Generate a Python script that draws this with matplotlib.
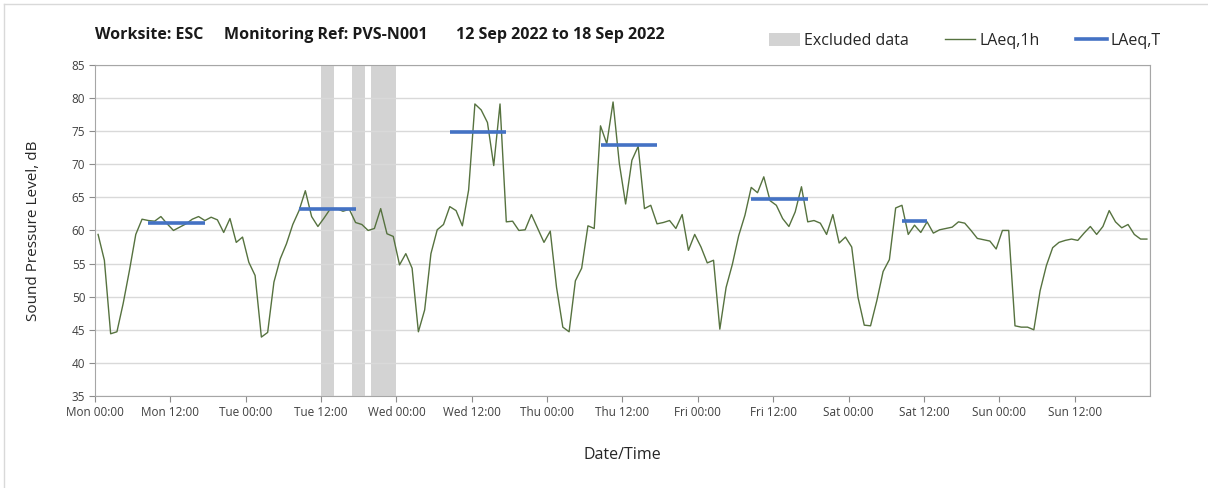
import numpy as np
import matplotlib
matplotlib.use('Agg')
import matplotlib.pyplot as plt
from matplotlib.patches import Patch
from matplotlib.lines import Line2D

plt.rcParams['font.family'] = ['Open Sans', 'DejaVu Sans']

# hourly LAeq,1h values (dB), one list per day, plotted at the middle of each hour
mon = [59.4, 55.5, 44.4, 44.7, 49.0, 54.0, 59.4, 61.7, 61.5, 61.4, 62.1, 61.0,
       60.0, 60.5, 61.0, 61.7, 62.1, 61.5, 62.0, 61.6, 59.7, 61.8, 58.2, 59.0]
tue = [55.2, 53.2, 43.9, 44.6, 52.2, 55.7, 58.0, 60.9, 63.0, 66.0, 62.1, 60.6,
       61.9, 63.3, 63.3, 62.9, 63.2, 61.2, 60.9, 60.0, 60.3, 63.3, 59.5, 59.1]
wed = [54.8, 56.5, 54.3, 44.7, 48.0, 56.5, 60.1, 60.9, 63.6, 63.0, 60.7, 66.1,
       79.1, 78.2, 76.3, 69.8, 79.1, 61.3, 61.4, 60.0, 60.1, 62.4, 60.3, 58.2]
thu = [59.9, 51.4, 45.4, 44.7, 52.4, 54.3, 60.7, 60.3, 75.8, 73.1, 79.4, 70.1,
       64.0, 70.6, 72.7, 63.3, 63.8, 61.0, 61.2, 61.5, 60.3, 62.4, 57.0, 59.4]
fri = [57.5, 55.1, 55.5, 45.1, 51.4, 54.9, 59.2, 62.3, 66.5, 65.7, 68.1, 64.5,
       63.8, 61.8, 60.6, 62.8, 66.6, 61.3, 61.5, 61.1, 59.4, 62.4, 58.1, 59.0]
sat = [57.5, 49.9, 45.7, 45.6, 49.4, 53.8, 55.6, 63.4, 63.8, 59.4, 60.8, 59.7,
       61.3, 59.6, 60.1, 60.3, 60.5, 61.3, 61.1, 60.0, 58.8, 58.6, 58.4, 57.2]
sun = [60.0, 60.0, 45.6, 45.4, 45.4, 45.0, 50.9, 54.7, 57.4, 58.2, 58.5, 58.7,
       58.5, 59.6, 60.6, 59.4, 60.6, 63.0, 61.3, 60.4, 60.9, 59.4, 58.7, 58.7]

laeq_1h = mon + tue + wed + thu + fri + sat + sun
hours = np.arange(len(laeq_1h)) + 0.5

# LAeq,T over each daytime period: start hour, end hour, level
laeq_t_start = [8.5, 32.5, 56.5, 80.5, 104.5, 128.5]
laeq_t_end = [17.5, 41.5, 65.5, 89.5, 113.5, 132.5]
laeq_t = [61.2, 63.3, 74.8, 72.9, 64.8, 61.5]

# excluded periods (hours from Mon 00:00)
excl_start = [36, 41, 44]
excl_end = [38, 43, 48]

days = ['Mon', 'Tue', 'Wed', 'Thu', 'Fri', 'Sat', 'Sun']
tick_labels = [d + ' ' + t for d in days for t in ['00:00', '12:00']]

green = '#56723f'
blue = '#4472c4'
grey = '#d3d3d3'

fig, ax = plt.subplots(figsize=(12.08, 4.88), dpi=100)
fig.subplots_adjust(left=0.0786, right=0.952, top=0.867, bottom=0.1885)

for s, e in zip(excl_start, excl_end):
    ax.axvspan(s, e, color=grey, lw=0, zorder=1)

ax.plot(hours, laeq_1h, color=green, lw=1.0, zorder=3)
ax.hlines(laeq_t, laeq_t_start, laeq_t_end, color=blue, lw=2.6, zorder=4)

ax.set_xlim(0, 168)
ax.set_ylim(35, 85)
ax.set_yticks(np.arange(35, 86, 5))
ax.set_xticks(np.arange(0, 168, 12))
ax.set_xticklabels(tick_labels)
ax.set_xticks(np.arange(0, 169, 24), minor=True)

ax.grid(True, axis='y', color='#d9d9d9', lw=1.0, zorder=0)
ax.grid(True, axis='x', which='minor', color='#d9d9d9', lw=1.0, zorder=0)
ax.tick_params(axis='both', which='major', labelsize=8.5, colors='#8c8c8c',
               labelcolor='#404040', length=4)
ax.tick_params(axis='x', which='minor', length=0)
ax.tick_params(axis='y', pad=3)
for sp in ax.spines.values():
    sp.set_color('#a6a6a6')

ax.set_ylabel('Sound Pressure Level, dB', fontsize=11, color='#262626', labelpad=22)
ax.set_xlabel('Date/Time', fontsize=11.5, color='#262626', labelpad=20)

# title in three pieces
ty = 1 - 35 / 488
fig.text(95 / 1208, ty, 'Worksite: ESC', fontsize=11.5, fontweight='bold',
         va='center', ha='left', color='#1a1a1a')
fig.text(224 / 1208, ty, 'Monitoring Ref: PVS-N001', fontsize=11.5,
         fontweight='bold', va='center', ha='left', color='#1a1a1a')
fig.text(456 / 1208, ty, '12 Sep 2022 to 18 Sep 2022', fontsize=11.5,
         fontweight='bold', va='center', ha='left', color='#1a1a1a')

handles = [Patch(facecolor=grey, edgecolor='none', label='Excluded data'),
           Line2D([], [], color=green, lw=1.0, label='LAeq,1h'),
           Line2D([], [], color=blue, lw=2.6, label='LAeq,T')]
fig.legend(handles=handles, loc='center right', bbox_to_anchor=(1172 / 1208, 1 - 41 / 488),
           ncol=3, frameon=False, fontsize=11.5, handlelength=1.9, handletextpad=0.25,
           columnspacing=2.3, handleheight=0.9, labelcolor='#262626', borderpad=0.2)

# outer chart border
fig.add_artist(Line2D([4 / 1208, 4 / 1208], [0, 1 - 4 / 488], color='#d9d9d9', lw=1,
                      transform=fig.transFigure))
fig.add_artist(Line2D([4 / 1208, 1], [1 - 4 / 488, 1 - 4 / 488], color='#d9d9d9', lw=1,
                      transform=fig.transFigure))

plt.savefig('out.png', dpi=100)
